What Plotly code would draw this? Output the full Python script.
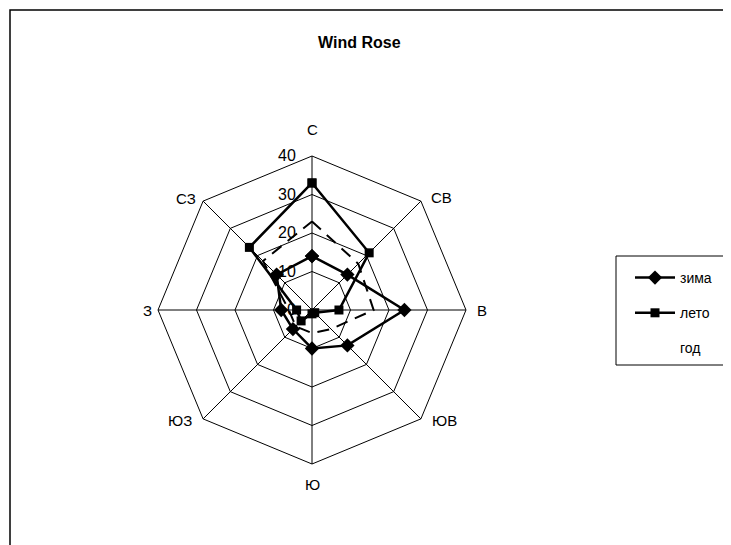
import math
import plotly.graph_objects as go

directions = ["С", "СВ", "В", "ЮВ", "Ю", "ЮЗ", "З", "СЗ"]
winter = [14, 13, 24, 13, 10, 7, 8, 13]
summer = [33, 21, 7, 1, 1, 4, 4, 23]
year = [23, 17, 16, 7, 6, 6, 6, 18]
radial_ticks = [0, 10, 20, 30, 40]

# page body has an 8px margin, so the figure is 8px smaller and all
# reference pixel positions are shifted by 8px
OFF = 8
W, H = 731 - OFF, 545 - OFF
FONT = "Liberation Sans, Arial, sans-serif"

def px_x(x):
    return (x - OFF) / W

def px_y(y):
    return 1 - (y - OFF) / H

def closed(seq):
    return list(seq) + [seq[0]]

fig = go.Figure()
fig.add_trace(go.Scatterpolar(
    r=closed(year), theta=closed(directions), mode="lines", name="год",
    line=dict(color="black", width=2, dash="12px,8px"), showlegend=False))
fig.add_trace(go.Scatterpolar(
    r=closed(winter), theta=closed(directions), mode="lines+markers", name="зима",
    line=dict(color="black", width=2.5),
    marker=dict(symbol="diamond", size=11, color="black"), legendgroup="a"))
fig.add_trace(go.Scatterpolar(
    r=closed(summer), theta=closed(directions), mode="lines+markers", name="лето",
    line=dict(color="black", width=2.5),
    marker=dict(symbol="square", size=9, color="black"), legendgroup="b"))
fig.add_trace(go.Scatterpolar(
    r=[None], theta=[directions[0]], mode="lines", name="год",
    line=dict(color="rgba(0,0,0,0)", width=2), legendgroup="c"))

cx, cy, R = 312, 310, 154
fig.update_layout(
    width=W, height=H,
    margin=dict(l=0, r=0, t=0, b=0),
    paper_bgcolor="white", plot_bgcolor="white",
    font=dict(family=FONT, color="black", size=15),
    polar=dict(
        domain=dict(x=[px_x(cx - R), px_x(cx + R)], y=[px_y(cy + R), px_y(cy - R)]),
        bgcolor="white",
        gridshape="linear",
        angularaxis=dict(direction="clockwise", rotation=90, categoryorder="array",
                         categoryarray=directions,
                         showline=True, linecolor="black", linewidth=1,
                         gridcolor="black", gridwidth=1,
                         ticks="", showticklabels=False),
        radialaxis=dict(range=[0, 40], tickvals=radial_ticks, angle=90, tickangle=90,
                        showline=False, gridcolor="black", gridwidth=1,
                        ticks="outside", ticklen=10, tickcolor="rgba(0,0,0,0)",
                        side="counterclockwise",
                        tickfont=dict(size=16, family=FONT)),
    ),
    legend=dict(x=px_x(630), y=px_y(262), xanchor="left", yanchor="top",
                bgcolor="rgba(0,0,0,0)", borderwidth=0,
                font=dict(size=14, family=FONT),
                traceorder="grouped", tracegroupgap=14, itemwidth=40),
    showlegend=True,
)

# category labels placed Excel-style next to the outer octagon vertices
label_offsets = [(0, -26), (21, -4), (16, 0), (24, 2), (0, 20), (-23, 2), (-11, 0), (-17, -3)]
for k, (name, (dx, dy)) in enumerate(zip(directions, label_offsets)):
    ang = math.radians(45 * k)
    vx = cx + R * math.sin(ang)
    vy = cy - R * math.cos(ang)
    fig.add_annotation(text=name, x=px_x(vx + dx), y=px_y(vy + dy), xref="paper", yref="paper",
                       showarrow=False, font=dict(size=15, family=FONT),
                       xanchor="center", yanchor="middle")

fig.add_annotation(text="<b>Wind Rose</b>", x=px_x(359), y=px_y(43), xref="paper", yref="paper",
                   showarrow=False, font=dict(size=16, family=FONT), xanchor="center", yanchor="middle")

# outer chart frame (runs off the right and bottom edges) and legend box
fig.add_shape(type="rect", xref="paper", yref="paper",
              x0=px_x(10), x1=1.05, y0=-0.05, y1=px_y(10),
              line=dict(color="black", width=1.5), fillcolor="rgba(0,0,0,0)", layer="below")
fig.add_shape(type="rect", xref="paper", yref="paper",
              x0=px_x(616), x1=1.05, y0=px_y(365), y1=px_y(256),
              line=dict(color="black", width=1), fillcolor="rgba(0,0,0,0)", layer="below")

fig.write_html("out.html")
